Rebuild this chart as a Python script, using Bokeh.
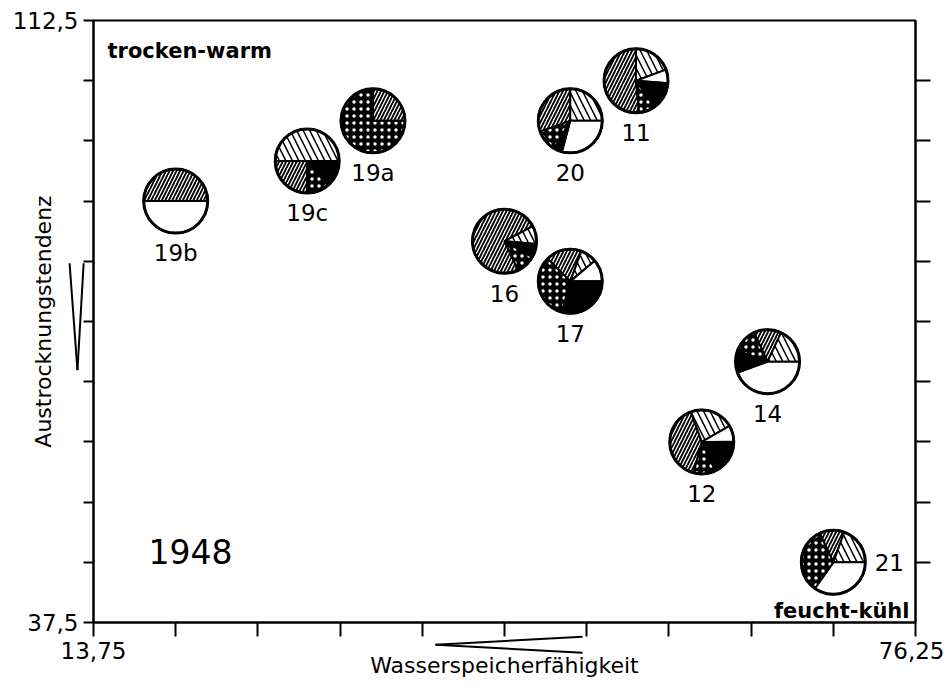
import math
from bokeh.plotting import figure
from bokeh.layouts import column
from bokeh.models import ColumnDataSource, FixedTicker, LinearAxis, Label, Range1d
from bokeh.core.properties import value
from bokeh.embed import file_html
from bokeh.resources import INLINE

# ---------------- data ----------------
samples = ["19b", "19c", "19a", "16", "17", "20", "11", "14", "12", "21"]
water_capacity = [20, 30, 35, 45, 50, 50, 55, 65, 60, 70]        # Wasserspeicherfähigkeit
drying_tendency = [90, 95, 100, 85, 80, 100, 105, 70, 60, 45]    # Austrocknungstendenz
# first slice start, degrees clockwise from 12 o'clock
pie_start = [270, 270, 0, 62, 315, 0, 0, 335, 340, 335]
# slice classes (clockwise) and their shares in percent
pie_classes = [
    ["A", "C"],
    ["B", "D", "E", "A"],
    ["A", "E"],
    ["B", "D", "E", "A"],
    ["A", "B", "C", "D", "E"],
    ["B", "C", "D", "E", "A"],
    ["B", "C", "D", "E", "A"],
    ["A", "B", "C", "D", "E"],
    ["B", "C", "D", "E", "A"],
    ["A", "B", "C", "E"],
]
pie_shares = [
    [50, 50],
    [50, 13.9, 11.1, 25],
    [25, 75],
    [9.2, 6.9, 9.7, 74.2],
    [18.1, 8.3, 11.1, 29.2, 33.3],
    [25, 29.2, 4.2, 11.1, 30.5],
    [19.4, 6.9, 13.9, 8.3, 51.5],
    [13.9, 18.1, 44.4, 11.1, 12.5],
    [22.2, 8.3, 18.1, 11.1, 40.3],
    [12.5, 19.4, 34.8, 33.3],
]
label_right = ["21"]

x_ticks = [13.75, 20, 26.25, 32.5, 38.75, 45, 51.25, 57.5, 63.75, 70, 76.25]
y_ticks = [37.5, 45, 52.5, 60, 67.5, 75, 82.5, 90, 97.5, 105, 112.5]
x_tick_labels = {13.75: "13,75", 76.25: "76,25"}
y_tick_labels = {37.5: "37,5", 112.5: "112,5"}

FONT = "DejaVu Sans"
X0, X1, Y0, Y1 = 13.75, 76.25, 37.5, 112.5

# layout (pixels)
FW, FH = 822, 602
BL, BR, BT, BB = 93, 29, 20, 66
W, H = BL + FW + BR, BT + FH + BB

# ---------------- figure ----------------
p = figure(x_range=Range1d(X0, X1), y_range=Range1d(Y0, Y1),
           frame_width=FW, frame_height=FH,
           min_border_left=BL, min_border_right=BR, min_border_top=BT, min_border_bottom=BB,
           output_backend="svg", toolbar_location=None,
           background_fill_color="white", border_fill_color="white")
p.grid.visible = False
p.outline_line_color = "black"
p.outline_line_width = 2

xa = p.xaxis[0]
xa.ticker = FixedTicker(ticks=x_ticks)
xa.major_label_overrides = {t: x_tick_labels.get(t, "") for t in x_ticks}
ya = p.yaxis[0]
ya.ticker = FixedTicker(ticks=y_ticks)
ya.major_label_overrides = {t: y_tick_labels.get(t, "") for t in y_ticks}
for ax, tick_out in ((xa, 14), (ya, 10)):
    ax.axis_line_width = 2
    ax.major_tick_line_width = 2
    ax.major_tick_in = 0
    ax.major_tick_out = tick_out
    ax.minor_tick_line_color = None
    ax.major_label_text_font = FONT
    ax.major_label_text_font_size = "23px"
    ax.major_label_text_color = "black"
    ax.major_label_standoff = 5
    ax.axis_label_text_font = FONT
    ax.axis_label_text_font_size = "22px"
    ax.axis_label_text_font_style = "normal"
    ax.axis_label_text_color = "black"
xa.axis_label = "Wasserspeicherfähigkeit"
xa.axis_label_standoff = -9
ya.axis_label = "Austrocknungstendenz"
ya.axis_label_standoff = -46

ra = LinearAxis(ticker=FixedTicker(ticks=y_ticks[1:-1]))
ra.axis_line_width = 2
ra.major_tick_line_width = 2
ra.major_tick_in = 0
ra.major_tick_out = 15
ra.minor_tick_line_color = None
ra.major_label_text_font_size = "0px"
ra.major_label_overrides = {t: "" for t in y_ticks}
p.add_layout(ra, "right")

# ---------------- pies ----------------
styles = {
    "A": dict(fill_color="white", hatch_pattern="/", hatch_color="black", hatch_scale=7, hatch_weight=1.8),
    "B": dict(fill_color="white", hatch_pattern="\\", hatch_color="black", hatch_scale=13, hatch_weight=1.5),
    "C": dict(fill_color="white"),
    "D": dict(fill_color="black"),
    "E": dict(fill_color="black", hatch_pattern=".", hatch_color="white", hatch_scale=7, hatch_weight=5),
}
wedges = {k: dict(x=[], y=[], start=[], end=[]) for k in styles}
for xv, yv, st, cls, shares in zip(water_capacity, drying_tendency, pie_start, pie_classes, pie_shares):
    a = st
    for c, s in zip(cls, shares):
        b = a + s * 3.6
        d = wedges[c]
        d["x"].append(xv)
        d["y"].append(yv)
        d["start"].append(math.radians(90 - a))
        d["end"].append(math.radians(90 - b))
        a = b

R = 32
for c, d in wedges.items():
    src = ColumnDataSource(d)
    p.wedge(x="x", y="y", radius=R, radius_units="screen", start_angle="start", end_angle="end",
            direction="clock", source=src, line_color="black", line_width=2, **styles[c])

p.scatter(x=water_capacity, y=drying_tendency, size=2 * R, fill_color=None,
          line_color="black", line_width=3)

# sample labels
xo = [56 if s in label_right else 0 for s in samples]
yo = [0 if s in label_right else 52 for s in samples]
p.text(x=water_capacity, y=drying_tendency, text=samples, x_offset=xo, y_offset=yo,
       text_align="center", text_baseline="middle", text_font=value(FONT),
       text_font_size="23px", text_color="black")

# ---------------- annotations in the frame ----------------
p.add_layout(Label(x=X0, y=Y1, x_offset=14, y_offset=-30, text="trocken-warm",
                   text_font=FONT, text_font_style="bold", text_font_size="21px",
                   text_color="black", text_align="left", text_baseline="alphabetic"))
p.add_layout(Label(x=X1, y=Y0, x_offset=-6, y_offset=12, text="feucht-kühl",
                   text_font=FONT, text_font_style="bold", text_font_size="21px",
                   text_color="black", text_align="right", text_baseline="alphabetic"))
p.add_layout(Label(x=X0, y=Y0, x_offset=97, y_offset=71, text="1948",
                   text_font=FONT, text_font_size="33px", text_color="black",
                   text_align="center", text_baseline="middle"))

# ---------------- transparent overlay for the direction wedges beside the axes ----------------
sx = FW / (X1 - X0)
sy = FH / (Y1 - Y0)
q = figure(x_range=Range1d(X0 - BL / sx, X1 + BR / sx), y_range=Range1d(Y0 - BB / sy, Y1 + BT / sy),
           width=W, height=H, min_border=0, min_border_left=0, min_border_right=0,
           min_border_top=0, min_border_bottom=0,
           x_axis_type=None, y_axis_type=None, output_backend="svg", toolbar_location=None,
           background_fill_color=None, border_fill_color=None, outline_line_color=None)
q.grid.visible = False
try:
    p.frame_align = False
    q.frame_align = False
except Exception:
    pass
# x: decreasing water capacity (tip at left), y: decreasing drying tendency (tip at bottom)
wx0 = [39.75, 39.75, 11.93, 13.0]
wy0 = [34.72, 34.72, 82.26, 82.26]
wx1 = [50.93, 50.93, 12.53, 12.53]
wy1 = [35.72, 33.73, 68.94, 68.94]
q.segment(x0=wx0, y0=wy0, x1=wx1, y1=wy1, line_width=2, line_color="black")
q.margin = (-H, 0, 0, 0)

layout = column(p, q, spacing=0)
open("out.html", "w").write(file_html(layout, INLINE))
